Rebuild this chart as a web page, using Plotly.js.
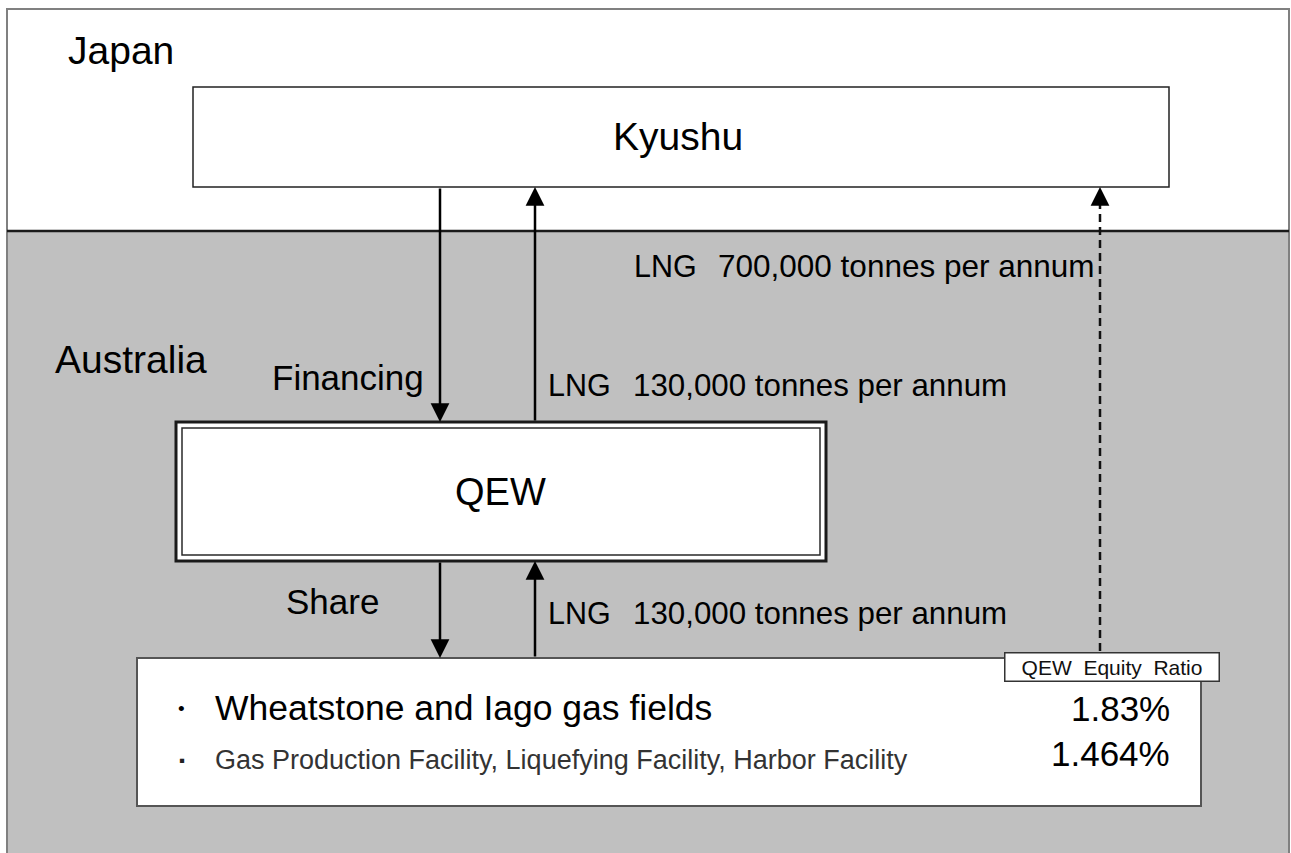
<!DOCTYPE html>
<html>
<head>
<meta charset="utf-8">
<script src="https://cdn.plot.ly/plotly-3.0.1.min.js"></script>
<style>html,body{margin:0;padding:0;background:#fff;}#chart{width:1291px;height:853px;}</style>
</head>
<body>
<div id="chart"></div>
<script>
// ---- diagram content ----
var regionLabels = ["Japan", "Australia"];
var entityLabels = ["Kyushu", "QEW"];
var flowLabels = ["Financing", "Share"];
var lngProduct = "LNG";
var lngVolumes = ["700,000 tonnes per annum", "130,000 tonnes per annum", "130,000 tonnes per annum"];
var assetNames = ["Wheatstone and Iago gas fields", "Gas Production Facility, Liquefying Facility, Harbor Facility"];
var equityRatios = ["1.83%", "1.464%"];
var ratioHeader = "QEW\u00a0 Equity\u00a0 Ratio";

var FONT = "Liberation Sans, Arial, sans-serif";
var W = 1291, H = 853;

function rect(x0, y0, x1, y1, fill, lc, lw) {
  return {type: 'rect', xref: 'x', yref: 'y', x0: x0, y0: y0, x1: x1, y1: y1,
    fillcolor: fill, line: {color: lc, width: lw}, layer: 'below'};
}
function line(x0, y0, x1, y1, lc, lw, dash) {
  return {type: 'line', xref: 'x', yref: 'y', x0: x0, y0: y0, x1: x1, y1: y1,
    line: {color: lc, width: lw, dash: dash || 'solid'}, layer: 'below'};
}

var shapes = [
  rect(7, 9, 1289, 231, '#ffffff', '#808080', 2),
  rect(7, 231, 1289, 860, '#c0c0c0', '#808080', 2),
  line(7, 231, 1289, 231, '#1a1a1a', 2.5),
  rect(193, 87, 1169, 187, '#ffffff', '#222222', 1.5),
  rect(176, 422, 826, 561, '#ffffff', '#1a1a1a', 3),
  rect(182, 428, 820, 555, '#ffffff', '#2a2a2a', 1.5),
  rect(137, 658, 1201, 806, '#ffffff', '#555555', 2),
  line(1100, 651, 1100, 200, '#111111', 2.5, '8px,5px')
];

function txt(x, y, text, size, xanchor, color, extra) {
  var a = {x: x, y: y, xref: 'x', yref: 'y', text: text, showarrow: false,
    xanchor: xanchor || 'left', yanchor: 'middle',
    font: {family: FONT, size: size, color: color || '#000000'}};
  if (extra) for (var k in extra) a[k] = extra[k];
  return a;
}
function arrow(x, yHead, yTail) {
  return {x: x, y: yHead, ax: x, ay: yTail, xref: 'x', yref: 'y', axref: 'x', ayref: 'y',
    text: '', showarrow: true, arrowhead: 2, arrowsize: 1.5, arrowwidth: 2.5, arrowcolor: '#000000',
    standoff: 0, startstandoff: 0};
}

var annotations = [
  txt(66, 50, regionLabels[0], 39),
  txt(53, 359, regionLabels[1], 39),
  txt(678, 136, entityLabels[0], 39, 'center'),
  txt(500, 492, entityLabels[1], 38, 'center'),
  txt(270, 377, flowLabels[0], 35),
  txt(284, 601, flowLabels[1], 35),
  txt(632, 266, lngProduct, 30.5),
  txt(716, 266, lngVolumes[0], 31.5),
  txt(546, 385, lngProduct, 30.5),
  txt(631, 385, lngVolumes[1], 31.3),
  txt(546, 613, lngProduct, 30.5),
  txt(631, 613, lngVolumes[2], 31.3),
  txt(176, 708, '\u2022', 19),
  txt(213, 708, assetNames[0], 35.5),
  txt(177, 760, '\u25aa', 17, 'left', '#222222'),
  txt(213, 760, assetNames[1], 27, 'left', '#333333'),
  txt(1172, 708, equityRatios[0], 35, 'right'),
  txt(1172, 753, equityRatios[1], 35, 'right'),
  txt(1111.5, 666.5, ratioHeader, 21, 'center', '#111111', {
    width: 213, height: 27, bgcolor: '#ffffff', bordercolor: '#333333', borderwidth: 1.5, borderpad: 0}),
  arrow(440, 422, 187),
  arrow(535, 187, 422),
  arrow(440, 658, 561),
  arrow(535, 561, 658),
  arrow(1100, 187, 205)
];

var layout = {
  width: W, height: H,
  margin: {l: 0, r: 0, t: 0, b: 0, pad: 0},
  paper_bgcolor: '#ffffff', plot_bgcolor: '#ffffff',
  showlegend: false,
  xaxis: {range: [0, W], visible: false, fixedrange: true},
  yaxis: {range: [H, 0], visible: false, fixedrange: true},
  shapes: shapes,
  annotations: annotations
};

Plotly.newPlot('chart', [{x: [], y: [], type: 'scatter', mode: 'markers', hoverinfo: 'skip'}], layout,
  {staticPlot: true, displayModeBar: false});
</script>
</body>
</html>
